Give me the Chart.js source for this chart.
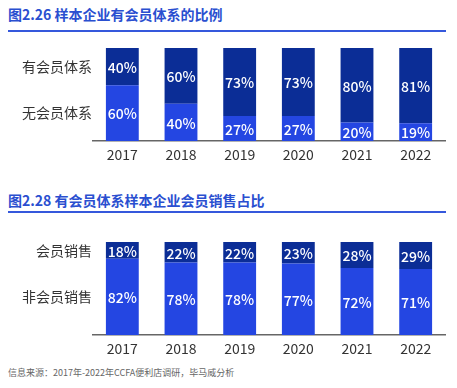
<!DOCTYPE html>
<html>
<head>
<meta charset="utf-8">
<script src="https://cdn.jsdelivr.net/npm/chart.js@4/dist/chart.umd.min.js"></script>
<style>
  body { margin: 0; background: #fff; font-family: "Noto Sans CJK SC", "Noto Sans", sans-serif; }
  #page { position: relative; width: 457px; height: 388px; overflow: hidden; }
  .title { position: absolute; left: 8px; font-size: 14px; font-weight: bold; color: #2a4fd0; white-space: nowrap; line-height: 18px; }
  .rule { position: absolute; left: 8px; width: 438px; height: 2px; background: #3558dc; }
  .box { position: absolute; left: 0; width: 457px; height: 130px; }
  #source { position: absolute; left: 8px; top: 366px; font-size: 9px; color: #666; white-space: nowrap; line-height: 14px; }
</style>
</head>
<body>
<div id="page">
  <div class="title" style="top:5px">图2.26 样本企业有会员体系的比例</div>
  <div class="rule" style="top:30px"></div>
  <div class="box" style="top:36px"><canvas id="chartMember"></canvas></div>

  <div class="title" style="top:191px">图2.28 有会员体系样本企业会员销售占比</div>
  <div class="rule" style="top:211px"></div>
  <div class="box" style="top:230px"><canvas id="chartSales"></canvas></div>

  <div id="source">信息来源：2017年-2022年CCFA便利店调研，毕马威分析</div>
</div>
<script>
const years = ['2017', '2018', '2019', '2020', '2021', '2022'];

// 图2.26
const memberLabels = ['无会员体系', '有会员体系'];
const noMember = [60, 40, 27, 27, 20, 19];
const hasMember = [40, 60, 73, 73, 80, 81];

// 图2.28
const salesLabels = ['非会员销售', '会员销售'];
const nonMemberSales = [82, 78, 78, 77, 72, 71];
const memberSales = [18, 22, 22, 23, 28, 29];

const brightBlue = '#2446e2';
const darkBlue = '#0b2d96';
const fontFamily = '"Noto Sans CJK SC", "Noto Sans", sans-serif';

// white % labels inside each segment + row names next to the first bar
const segmentText = {
  id: 'segmentText',
  afterDatasetsDraw(chart) {
    const ctx = chart.ctx;
    ctx.save();
    ctx.textAlign = 'center';
    ctx.textBaseline = 'middle';
    chart.data.datasets.forEach((ds, i) => {
      const meta = chart.getDatasetMeta(i);
      meta.data.forEach((bar, j) => {
        ctx.fillStyle = '#ffffff';
        ctx.font = '500 14px ' + fontFamily;
        ctx.fillText(ds.data[j] + '%', bar.x, (bar.y + bar.base) / 2 + 1);
      });
      const first = meta.data[0];
      ctx.fillStyle = '#333333';
      ctx.font = '14px ' + fontFamily;
      ctx.textAlign = 'right';
      ctx.fillText(ds.label, chart.chartArea.left - 1, (first.y + first.base) / 2);
      ctx.textAlign = 'center';
    });
    ctx.restore();
  }
};

function makeChart(id, labels, bottomData, topData) {
  const ctx = document.getElementById(id).getContext('2d');
  return new Chart(ctx, {
    type: 'bar',
    data: {
      labels: years,
      datasets: [{
        label: labels[0],
        data: bottomData,
        backgroundColor: brightBlue,
      },
      {
        label: labels[1],
        data: topData,
        backgroundColor: darkBlue,
      }],
    },
    options: {
      animation: false,
      responsive: true,
      maintainAspectRatio: false,
      barPercentage: 0.56,
      categoryPercentage: 1,
      layout: {
        padding: { left: 93, right: 12, top: 12, bottom: 0 },
      },
      plugins: {
        legend: { display: false },
        tooltip: { enabled: false },
      },
      scales: {
        x: {
          stacked: true,
          grid: { display: false, drawTicks: false },
          border: { display: true, color: '#666666', width: 1.5 },
          ticks: {
            color: '#333333',
            padding: 5,
            font: { size: 14, family: fontFamily },
          },
          afterFit: (scale) => { scale.height = 25; },
        },
        y: {
          stacked: true,
          display: false,
          min: 0,
          max: 100,
        },
      },
      elements: {
        bar: { borderWidth: 0 },
      },
    },
    plugins: [segmentText],
  });
}

makeChart('chartMember', memberLabels, noMember, hasMember);
makeChart('chartSales', salesLabels, nonMemberSales, memberSales);
</script>
</body>
</html>
